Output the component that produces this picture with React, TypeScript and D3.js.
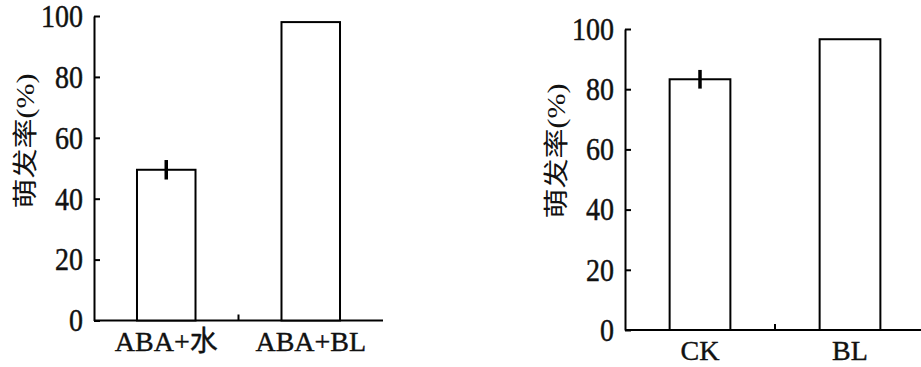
import React, { useEffect, useRef } from 'react';
import * as d3 from 'd3';

// 萌发率 data
const leftCategories = ['ABA+水', 'ABA+BL'];
const leftValues = [49.5, 98];
const leftErrors = [3.2, 0];

const rightCategories = ['CK', 'BL'];
const rightValues = [83.3, 96.6];
const rightErrors = [3.1, 0];

const yTicks = [0, 20, 40, 60, 80, 100];
const yTitle = '萌发率(%)';

const FONT = "'Liberation Serif', 'Noto Sans CJK SC', serif";
const STRETCH = 1.12;

type Panel = {
    categories: string[];
    values: number[];
    errors: number[];
    left: number;
    right: number;
    bottom: number;
    top: number;
    titleX: number;
    titleY: number;
};

function drawPanel(svg: d3.Selection<SVGSVGElement, unknown, null, undefined>, p: Panel) {
    const y = d3.scaleLinear().domain([0, 100]).range([p.bottom, p.top]);
    const x = d3.scaleBand<string>().domain(p.categories).range([p.left, p.right]).padding(0);
    const barW = x.bandwidth() * 0.405;

    const g = svg.append('g');

    // y axis, ticks pointing inward
    const yAxis = g.append('g')
        .attr('transform', `translate(${p.left},0)`)
        .call(d3.axisLeft(y).tickValues(yTicks).tickSizeInner(-6).tickSizeOuter(0).tickPadding(11));
    yAxis.attr('font-family', null).attr('font-size', null);
    yAxis.select('.domain').attr('stroke', '#000').attr('stroke-width', 2);
    yAxis.selectAll('.tick line').attr('stroke', '#000').attr('stroke-width', 2);
    yAxis.selectAll('.tick text')
        .style('font-family', FONT)
        .style('font-size', '28px')
        .attr('fill', '#111')
        .attr('stroke', '#111')
        .attr('stroke-width', 0.4)
        .attr('dy', '0.33em')
        .attr('transform', `scale(1,${STRETCH})`);

    // x axis line
    g.append('line')
        .attr('x1', p.left).attr('x2', p.right)
        .attr('y1', p.bottom).attr('y2', p.bottom)
        .attr('stroke', '#000').attr('stroke-width', 2);

    // small tick between the two groups
    p.categories.slice(1).forEach(c => {
        g.append('line')
            .attr('x1', x(c)!).attr('x2', x(c)!)
            .attr('y1', p.bottom).attr('y2', p.bottom - 6)
            .attr('stroke', '#000').attr('stroke-width', 2);
    });

    // bars
    g.selectAll('rect.bar')
        .data(p.values)
        .enter()
        .append('rect')
        .attr('class', 'bar')
        .attr('x', (d, i) => x(p.categories[i])! + (x.bandwidth() - barW) / 2)
        .attr('width', barW)
        .attr('y', d => y(d))
        .attr('height', d => p.bottom - y(d))
        .attr('fill', '#fff')
        .attr('stroke', '#000')
        .attr('stroke-width', 2);

    // error bars
    g.selectAll('line.err')
        .data(p.values.map((v, i) => ({ v, e: p.errors[i], c: p.categories[i] })).filter(d => d.e > 0))
        .enter()
        .append('line')
        .attr('class', 'err')
        .attr('x1', d => x(d.c)! + x.bandwidth() / 2)
        .attr('x2', d => x(d.c)! + x.bandwidth() / 2)
        .attr('y1', d => y(d.v + d.e))
        .attr('y2', d => y(d.v - d.e))
        .attr('stroke', '#000')
        .attr('stroke-width', 3.5);

    // category labels
    g.selectAll('text.cat')
        .data(p.categories)
        .enter()
        .append('text')
        .attr('class', 'cat')
        .attr('x', c => x(c)! + x.bandwidth() / 2)
        .attr('y', p.bottom + 30)
        .attr('text-anchor', 'middle')
        .style('font-family', FONT)
        .style('font-size', '28px')
        .attr('fill', '#111')
        .attr('stroke', '#111')
        .attr('stroke-width', 0.4)
        .text(c => c);

    // y title
    g.append('text')
        .attr('transform', `translate(${p.titleX},${p.titleY}) scale(1,1.2) rotate(-90)`)
        .attr('text-anchor', 'middle')
        .attr('dominant-baseline', 'central')
        .style('font-family', FONT)
        .style('font-size', '25px')
        .attr('fill', '#111')
        .text(yTitle);
}

const App = () => {
    const ref = useRef<SVGSVGElement | null>(null);

    useEffect(() => {
        document.body.style.margin = '0';
        if (!ref.current) return;
        const svg = d3.select(ref.current);
        svg.selectAll('*').remove();

        drawPanel(svg, {
            categories: leftCategories,
            values: leftValues,
            errors: leftErrors,
            left: 94, right: 383, bottom: 320.5, top: 16,
            titleX: 25, titleY: 141,
        });
        drawPanel(svg, {
            categories: rightCategories,
            values: rightValues,
            errors: rightErrors,
            left: 625, right: 925, bottom: 330, top: 29,
            titleX: 556, titleY: 151,
        });
    }, []);

    return (
        <svg ref={ref} width={921} height={367} style={{ display: 'block', background: '#fff' }} />
    );
};

export default App;
